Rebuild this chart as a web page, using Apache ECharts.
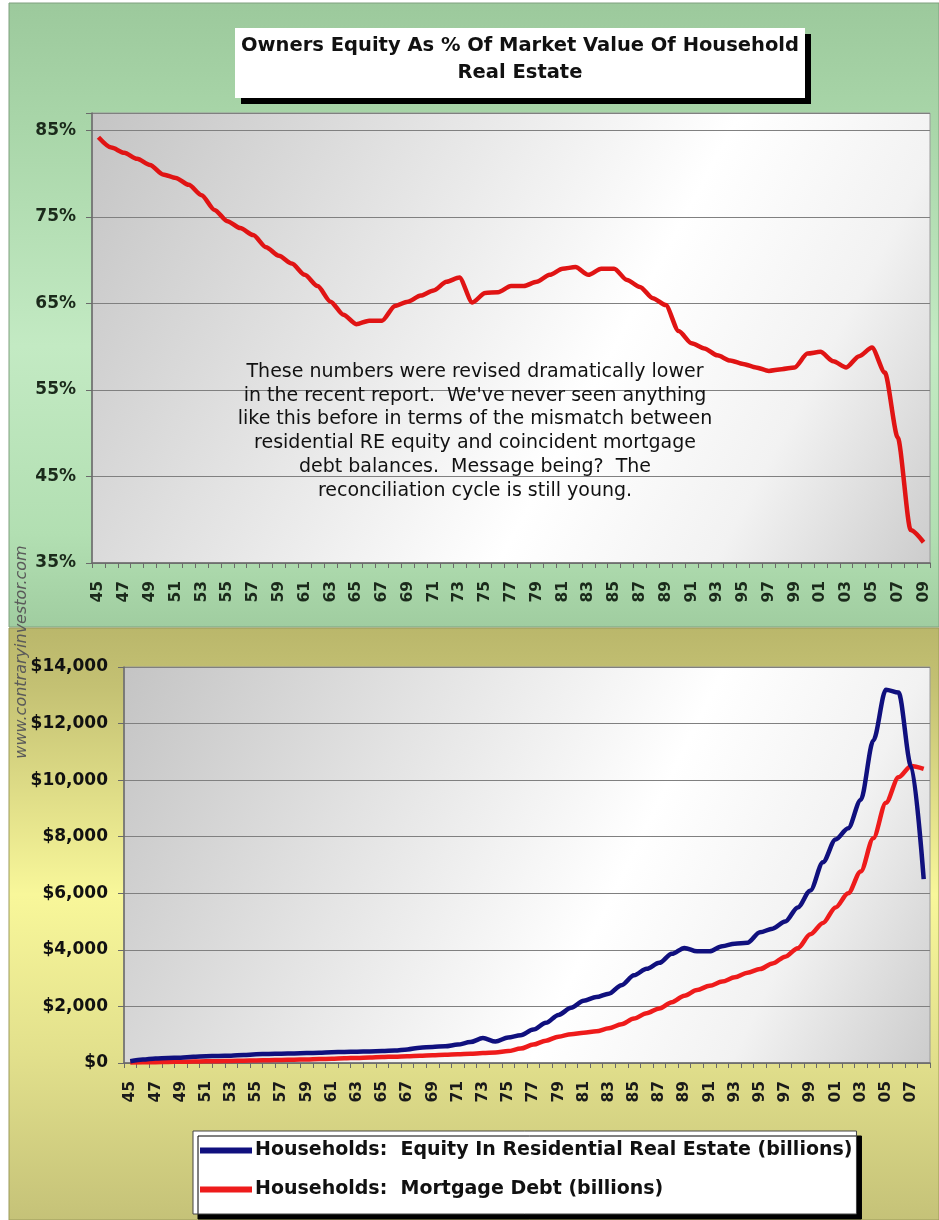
<!DOCTYPE html>
<html>
<head>
<meta charset="utf-8">
<script src="https://cdn.jsdelivr.net/npm/echarts@6/dist/echarts.min.js"></script>
<style>
html,body{margin:0;padding:0;background:#ffffff;}
#chart{width:939px;height:1220px;}
</style>
</head>
<body>
<div id="chart"></div>
<script>
// ---------- DATA ----------
const years = [1945,1946,1947,1948,1949,1950,1951,1952,1953,1954,
  1955,1956,1957,1958,1959,1960,1961,1962,1963,1964,
  1965,1966,1967,1968,1969,1970,1971,1972,1973,1974,
  1975,1976,1977,1978,1979,1980,1981,1982,1983,1984,
  1985,1986,1987,1988,1989,1990,1991,1992,1993,1994,
  1995,1996,1997,1998,1999,2000,2001,2002,2003,2004,
  2005,2006,2007,2008,2009];

// Owners' equity as % of market value of household real estate (1945-2009)
const ownersEquityPct = [84.2,83.0,82.4,81.7,81.0,79.9,79.5,78.7,77.5,75.8,
  74.5,73.7,72.9,71.5,70.5,69.6,68.3,67.0,65.2,63.7,
  62.6,63.0,63.0,64.7,65.2,65.9,66.5,67.5,68.0,65.1,
  66.2,66.3,67.0,67.0,67.5,68.3,69.0,69.2,68.3,69.0,
  69.0,67.7,66.9,65.6,64.8,61.8,60.4,59.8,59.0,58.4,
  58.0,57.6,57.2,57.4,57.6,59.2,59.4,58.3,57.6,58.9,
  59.9,57.0,49.5,38.8,37.4];

// Bottom chart years 1945-2008
const bottomYears = years.slice(0, 64);

// Households: Equity in residential real estate (billions)
const equityBillions = [60,120,160,180,190,220,240,250,260,280,
  310,320,330,340,350,360,380,390,400,410,
  420,440,480,540,570,590,650,740,880,760,
  900,980,1180,1420,1700,1950,2200,2330,2450,2750,
  3100,3330,3540,3860,4070,3950,3950,4130,4220,4250,
  4620,4750,5000,5500,6100,7100,7900,8300,9300,11400,
  13200,13100,10500,6500];

// Households: Mortgage debt (billions)
const mortgageBillions = [20,25,30,38,45,50,58,65,72,80,
  90,100,108,115,125,140,150,165,180,195,
  210,225,240,255,270,290,310,330,350,375,
  420,510,650,790,930,1020,1070,1120,1230,1370,
  1570,1760,1930,2150,2380,2580,2730,2880,3030,3190,
  3320,3520,3760,4060,4550,4950,5500,6000,6770,7950,
  9200,10100,10500,10400];

const titleLines = ['Owners Equity As % Of Market Value Of Household', 'Real Estate'];
const noteLines = [
  'These numbers were revised dramatically lower',
  "in the recent report.  We've never seen anything",
  'like this before in terms of the mismatch between',
  'residential RE equity and coincident mortgage',
  'debt balances.  Message being?  The',
  'reconciliation cycle is still young.'
];
const seriesNames = ['Households:  Equity In Residential Real Estate (billions)',
                     'Households:  Mortgage Debt (billions)'];
const watermark = 'www.contraryinvestor.com';

// ---------- CHART ----------
const chart = echarts.init(document.getElementById('chart'), null, {renderer: 'canvas'});
const BOLD = 'DejaVu Sans';
const yearLabel = v => String(v).slice(2);

const plotBg = {
  type: 'linear', x: 0, y: 0, x2: 1, y2: 1,
  colorStops: [{offset: 0, color: '#c4c4c4'}, {offset: 0.3, color: '#e2e2e2'},
               {offset: 0.6, color: '#ffffff'}, {offset: 0.8, color: '#f2f2f2'},
               {offset: 1, color: '#cccccc'}]
};

const option = {
  animation: false,
  backgroundColor: '#ffffff',
  graphic: [
    { type: 'rect', z: -20, shape: {x: 9, y: 3, width: 930, height: 624},
      style: {stroke: '#7fa07f', lineWidth: 1, fill: {
        type: 'linear', x: 0, y: 0, x2: 0, y2: 1,
        colorStops: [{offset: 0, color: '#9cc99c'}, {offset: 0.2, color: '#a9d6a9'},
                     {offset: 0.55, color: '#c3eac3'}, {offset: 0.85, color: '#b2dfb2'},
                     {offset: 1, color: '#a0cda0'}]}}},
    { type: 'rect', z: -20, shape: {x: 9, y: 628, width: 930, height: 592},
      style: {stroke: '#9a9a5a', lineWidth: 1, fill: {
        type: 'linear', x: 0, y: 0, x2: 0, y2: 1,
        colorStops: [{offset: 0, color: '#bab76b'}, {offset: 0.1, color: '#c4c173'},
                     {offset: 0.45, color: '#f8f79a'}, {offset: 0.72, color: '#e2e08c'},
                     {offset: 1, color: '#c5c278'}]}}},
    // title box with shadow
    { type: 'rect', z: 10, shape: {x: 241, y: 34, width: 570, height: 70},
      style: {fill: '#000000'}},
    { type: 'rect', z: 10, shape: {x: 235, y: 28, width: 570, height: 70},
      style: {fill: '#ffffff'}},
    { type: 'text', z: 11, x: 520, y: 59,
      style: {text: titleLines.join('\n'), font: 'bold 19.5px "DejaVu Sans"', fill: '#111111',
              textAlign: 'center', textVerticalAlign: 'middle', lineHeight: 27}},
    // annotation
    { type: 'text', z: 11, x: 475, y: 360,
      style: {text: noteLines.join('\n'), font: '19px "DejaVu Sans"', fill: '#111111',
              textAlign: 'center', textVerticalAlign: 'top', lineHeight: 23.8}},
    // watermark
    { type: 'text', z: 11, x: 22, y: 652, rotation: Math.PI / 2,
      style: {text: watermark, font: 'italic 16px "DejaVu Sans"', fill: '#5a5a5a',
              textAlign: 'center', textVerticalAlign: 'middle'}}
  ],
  legend: {
    data: seriesNames,
    orient: 'vertical',
    left: 193, top: 1131,
    backgroundColor: '#ffffff',
    borderColor: '#444444', borderWidth: 1,
    shadowColor: '#000000', shadowOffsetX: 5, shadowOffsetY: 5, shadowBlur: 0,
    padding: [10, 4, 15, 7],
    itemGap: 20,
    itemWidth: 52, itemHeight: 6,
    icon: 'rect',
    textStyle: {fontFamily: BOLD, fontWeight: 'bold', fontSize: 19, color: '#111111', padding: [0, 0, 0, -2]}
  },
  grid: [
    {left: 92, top: 113, width: 838, height: 450, show: true,
     backgroundColor: plotBg, borderColor: '#9a9a9a', borderWidth: 1},
    {left: 124, top: 667, width: 806, height: 396, show: true,
     backgroundColor: plotBg, borderColor: '#9a9a9a', borderWidth: 1}
  ],
  xAxis: [
    {type: 'category', gridIndex: 0, data: years, boundaryGap: true,
     axisLine: {lineStyle: {color: '#6a6a6a', width: 1.5}},
     axisTick: {show: true, interval: 0, length: 5, lineStyle: {color: '#6a6a6a'}},
     axisLabel: {interval: 1, rotate: 90, margin: 18, formatter: yearLabel,
                 fontFamily: BOLD, fontWeight: 'bold', fontSize: 15.5, color: '#1b2a1b'}},
    {type: 'category', gridIndex: 1, data: bottomYears, boundaryGap: true,
     axisLine: {lineStyle: {color: '#6a6a6a', width: 1.5}},
     axisTick: {show: true, interval: 0, length: 5, lineStyle: {color: '#6a6a6a'}},
     axisLabel: {interval: 1, rotate: 90, margin: 18, formatter: yearLabel,
                 fontFamily: BOLD, fontWeight: 'bold', fontSize: 15.5, color: '#1a1a1a'}}
  ],
  yAxis: [
    {type: 'value', gridIndex: 0, min: 35, max: 87, interval: 10,
     axisLine: {show: true, lineStyle: {color: '#6a6a6a', width: 1.5}},
     axisTick: {show: true, length: 6, lineStyle: {color: '#6a6a6a'}},
     splitLine: {show: true, lineStyle: {color: '#808080', width: 1}},
     axisLabel: {margin: 16, formatter: v => ((v - 35) % 10 === 0 ? v + '%' : ''),
                 fontFamily: BOLD, fontWeight: 'bold', fontSize: 17, color: '#1b2a1b'}},
    {type: 'value', gridIndex: 1, min: 0, max: 14000, interval: 2000,
     axisLine: {show: true, lineStyle: {color: '#6a6a6a', width: 1.5}},
     axisTick: {show: true, length: 6, lineStyle: {color: '#6a6a6a'}},
     splitLine: {show: true, lineStyle: {color: '#808080', width: 1}},
     axisLabel: {margin: 16, formatter: v => '$' + v.toLocaleString('en-US'),
                 fontFamily: BOLD, fontWeight: 'bold', fontSize: 17, color: '#111111'}}
  ],
  series: [
    {type: 'line', name: 'Owners Equity %', xAxisIndex: 0, yAxisIndex: 0, data: ownersEquityPct,
     showSymbol: false, smooth: 0.25, smoothMonotone: 'x',
     lineStyle: {color: '#e01414', width: 4.5}, itemStyle: {color: '#e01414'}},
    {type: 'line', name: seriesNames[1], xAxisIndex: 1, yAxisIndex: 1, data: mortgageBillions,
     showSymbol: false, smooth: 0.3, smoothMonotone: 'x',
     lineStyle: {color: '#ee1b1b', width: 4.5}, itemStyle: {color: '#ee1b1b'}},
    {type: 'line', name: seriesNames[0], xAxisIndex: 1, yAxisIndex: 1, data: equityBillions,
     showSymbol: false, smooth: 0.3, smoothMonotone: 'x',
     lineStyle: {color: '#10107e', width: 4.5}, itemStyle: {color: '#10107e'}}
  ]
};
chart.setOption(option);
</script>
</body>
</html>
